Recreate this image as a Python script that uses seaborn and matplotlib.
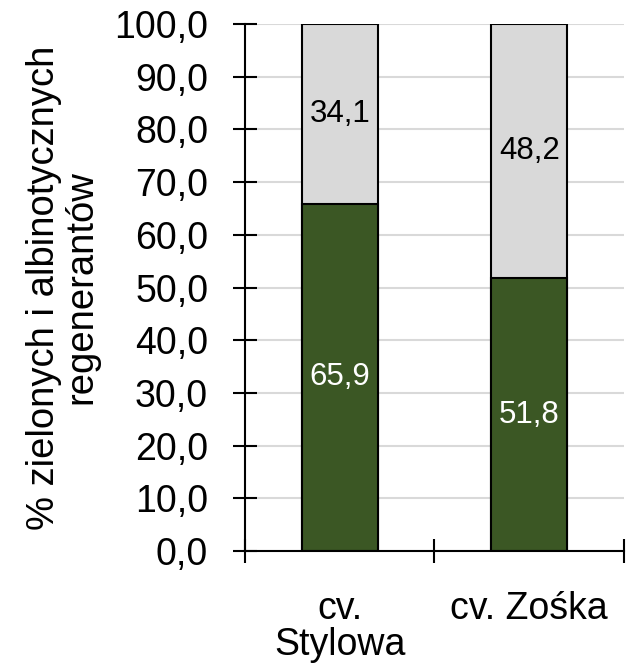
import matplotlib
matplotlib.use("Agg")
import matplotlib.pyplot as plt
import seaborn as sns
import pandas as pd
from matplotlib.ticker import FixedLocator, FuncFormatter

# Share of green and albino regenerants per cultivar (%)
cultivars = ["cv.\nStylowa", "cv. Zośka"]
green = [65.9, 51.8]
albino = [34.1, 48.2]
y_ticks = [0, 10, 20, 30, 40, 50, 60, 70, 80, 90, 100]

GREEN = "#3B5724"
GREY = "#D9D9D9"

sns.set_theme(style="white")
plt.rcParams["font.family"] = ["Liberation Sans", "DejaVu Sans"]
plt.rcParams.update({
    "text.color": "black",
    "axes.labelcolor": "black",
    "xtick.color": "black",
    "ytick.color": "black",
})

df = pd.DataFrame({
    "cultivar": cultivars,
    "green": green,
    "albino": albino,
})
df["total"] = df["green"] + df["albino"]

fig = plt.figure(figsize=(6.38, 6.65), dpi=100)
ax = fig.add_axes([0.384, 0.1714, 0.594, 0.7925])

bar_kw = dict(width=0.4, edgecolor="black", linewidth=1.5, saturation=1, zorder=3)
# grey segment sits on top of the green one: draw full stack, then green base
sns.barplot(data=df, x="cultivar", y="total", color=GREY, ax=ax, **bar_kw)
sns.barplot(data=df, x="cultivar", y="green", color=GREEN, ax=ax, **bar_kw)

fmt = lambda v: f"{v:.1f}".replace(".", ",")

# value labels
green_bars = ax.containers[1]
ax.bar_label(green_bars, labels=[fmt(v) for v in df["green"]],
             label_type="center", color="white", fontsize=22.5, zorder=5)
for i, (g, a) in enumerate(zip(df["green"], df["albino"])):
    ax.text(i, g + a / 2, fmt(a), ha="center", va="center",
            fontsize=22.5, color="black", zorder=5)

ax.set_xlim(-0.5, 1.5)
ax.set_ylim(0, 100)
ax.yaxis.set_major_locator(FixedLocator(y_ticks))
ax.yaxis.set_major_formatter(FuncFormatter(lambda v, p: fmt(v)))

ax.grid(axis="y", color=GREY, linewidth=1.5, zorder=0)
ax.grid(axis="x", visible=False)
ax.set_axisbelow(True)

for s in ["top", "right"]:
    ax.spines[s].set_visible(False)
for s in ["left", "bottom"]:
    ax.spines[s].set_color("black")
    ax.spines[s].set_linewidth(1.5)
    ax.spines[s].set_zorder(4)

# y ticks crossing the axis
ax.tick_params(axis="y", which="major", direction="inout", length=17,
               width=1.5, color="black", labelsize=27, pad=18, left=True)
# x: labels at category centres, tick marks at category boundaries
ax.tick_params(axis="x", which="major", length=0, labelsize=27, pad=29)
ax.xaxis.set_minor_locator(FixedLocator([-0.5, 0.5, 1.5]))
ax.tick_params(axis="x", which="minor", direction="inout", length=17,
               width=1.5, color="black", bottom=True)
for lbl in ax.get_xticklabels():
    lbl.set_linespacing(1.0)
    lbl.set_multialignment("center")

ax.set_xlabel("")
ax.set_ylabel("% zielonych i albinotycznych\nregenerantów", fontsize=27.5,
              linespacing=1.05, multialignment="center")
ax.yaxis.set_label_coords(-0.383, 0.5)

fig.savefig("out.png", dpi=100)
